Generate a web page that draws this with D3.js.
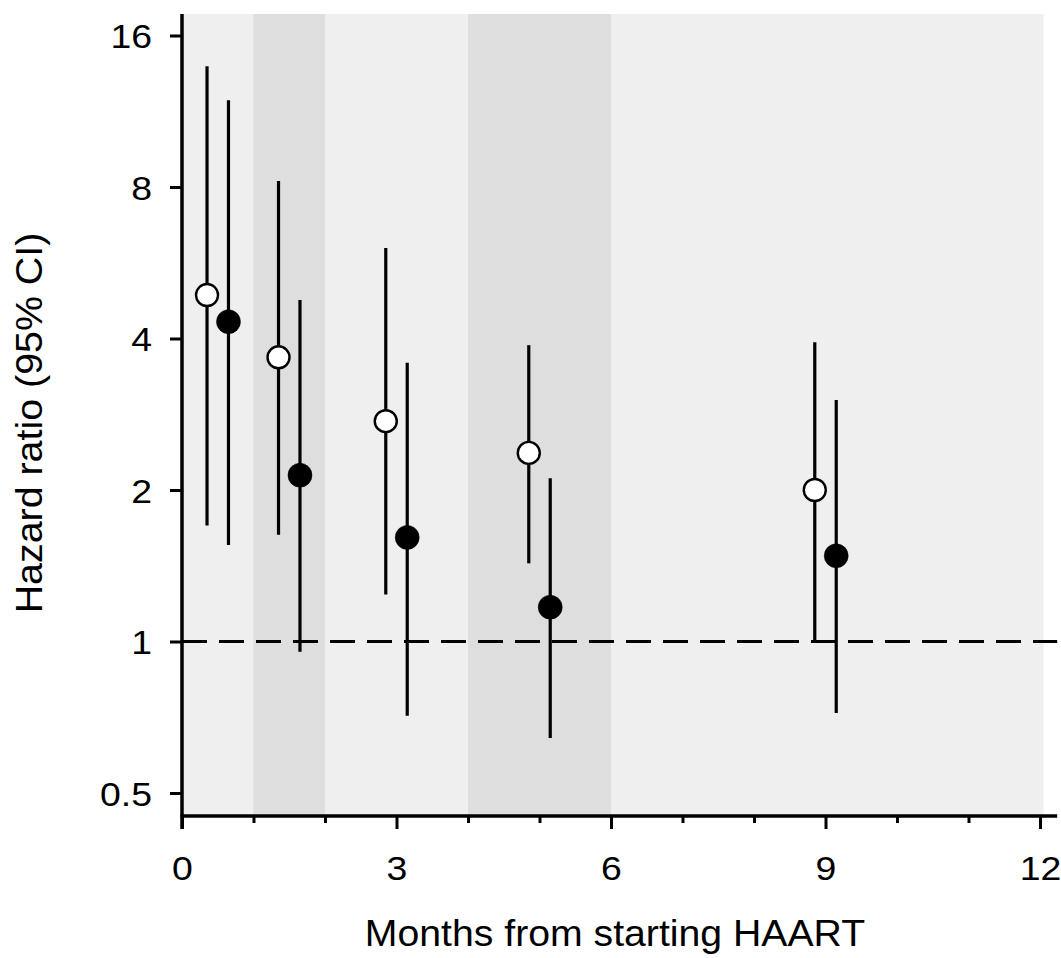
<!DOCTYPE html>
<html>
<head>
<meta charset="utf-8">
<script src="https://cdn.jsdelivr.net/npm/d3@7/dist/d3.min.js"></script>
<style>
  html, body { margin: 0; padding: 0; background: #ffffff; }
  svg { display: block; }
  text { font-family: "Liberation Sans", Arial, Helvetica, sans-serif; fill: #000; }
</style>
</head>
<body>
<svg id="chart" width="1061" height="958"></svg>
<script>
// ---- data ----
const openMonths   = [0.35, 1.35, 2.85, 4.85, 8.85];
const openHR       = [4.88, 3.67, 2.74, 2.37, 2.00];
const openLower    = [1.70, 1.63, 1.24, 1.43, 1.00];
const openUpper    = [13.9, 8.22, 6.05, 3.88, 3.93];

const closedMonths = [0.65, 1.65, 3.15, 5.15, 9.15];
const closedHR     = [4.32, 2.14, 1.61, 1.17, 1.48];
const closedLower  = [1.555, 0.954, 0.712, 0.643, 0.721];
const closedUpper  = [11.9, 4.77, 3.58, 2.11, 3.02];

const shadedBands  = [[1, 2], [4, 6]];
const yTickValues  = [0.5, 1, 2, 4, 8, 16];
const yTickLabels  = ["0.5", "1", "2", "4", "8", "16"];
const xMajorTicks  = [0, 3, 6, 9, 12];
const xMinorTicks  = [1, 2, 4, 5, 7, 8, 10, 11];
const referenceHR  = 1;
const xTitle = "Months from starting HAART";
const yTitle = "Hazard ratio (95% CI)";

// ---- layout ----
const svg = d3.select("#chart");
const plotTop = 14, plotBottom = 816;
const x = d3.scaleLinear().domain([0, 12]).range([182, 1040]);
const y = d3.scaleLog().base(2).domain([0.5, 16]).range([793, 35.5]);

// background
svg.append("rect")
  .attr("x", x(0)).attr("y", plotTop)
  .attr("width", x(12.05) - x(0)).attr("height", plotBottom - plotTop)
  .attr("fill", "#efefef");

svg.selectAll("rect.band").data(shadedBands).enter().append("rect")
  .attr("class", "band")
  .attr("x", d => x(d[0])).attr("y", plotTop)
  .attr("width", d => x(d[1]) - x(d[0])).attr("height", plotBottom - plotTop)
  .attr("fill", "#dedede");

// reference line
svg.append("line")
  .attr("x1", x(0)).attr("x2", x(12.24))
  .attr("y1", y(referenceHR)).attr("y2", y(referenceHR))
  .attr("stroke", "#000").attr("stroke-width", 3)
  .attr("stroke-dasharray", "25,12");

// y axis
const yAxis = d3.axisLeft(y).tickValues(yTickValues)
  .tickFormat((d, i) => yTickLabels[i]).tickSize(12).tickSizeOuter(0);
const gy = svg.append("g").attr("transform", `translate(${x(0)},0)`).call(yAxis);
gy.select(".domain").remove();
gy.selectAll(".tick line").attr("stroke", "#000").attr("stroke-width", 3);
gy.selectAll(".tick text")
  .attr("font-size", 34).attr("font-family", "Liberation Sans, Arial, sans-serif")
  .attr("dy", null).attr("y", 12).attr("x", null)
  .attr("transform", "translate(-30,0) scale(1.1,1)");

svg.append("line")
  .attr("x1", x(0)).attr("x2", x(0))
  .attr("y1", plotTop).attr("y2", plotBottom + 13)
  .attr("stroke", "#000").attr("stroke-width", 3.5);

// x axis
const gxMinor = svg.append("g").attr("transform", `translate(0,${plotBottom})`)
  .call(d3.axisBottom(x).tickValues(xMinorTicks).tickSize(7).tickSizeOuter(0).tickFormat(""));
gxMinor.select(".domain").remove();
gxMinor.selectAll(".tick line").attr("stroke", "#000").attr("stroke-width", 3);

const gx = svg.append("g").attr("transform", `translate(0,${plotBottom})`)
  .call(d3.axisBottom(x).tickValues(xMajorTicks).tickSize(13).tickSizeOuter(0).tickFormat(d3.format("d")));
gx.select(".domain").remove();
gx.selectAll(".tick line").attr("stroke", "#000").attr("stroke-width", 3);
gx.selectAll(".tick text")
  .attr("font-size", 34).attr("font-family", "Liberation Sans, Arial, sans-serif")
  .attr("dy", null).attr("y", 0)
  .attr("transform", "translate(0,64) scale(1.1,1)");

svg.append("line")
  .attr("x1", x(0) - 1.5).attr("x2", x(12.24))
  .attr("y1", plotBottom).attr("y2", plotBottom)
  .attr("stroke", "#000").attr("stroke-width", 3.5);

// error bars
function drawSeries(months, hr, lo, hi, fill, cls) {
  const data = months.map((m, i) => ({ m, hr: hr[i], lo: lo[i], hi: hi[i] }));
  svg.selectAll("line." + cls).data(data).enter().append("line")
    .attr("class", cls)
    .attr("x1", d => x(d.m)).attr("x2", d => x(d.m))
    .attr("y1", d => y(d.lo)).attr("y2", d => y(d.hi))
    .attr("stroke", "#000").attr("stroke-width", 3.2);
  svg.selectAll("circle." + cls).data(data).enter().append("circle")
    .attr("class", cls)
    .attr("cx", d => x(d.m)).attr("cy", d => y(d.hr))
    .attr("r", fill === "#fff" ? 11 : 12)
    .attr("fill", fill).attr("stroke", "#000").attr("stroke-width", fill === "#fff" ? 2.4 : 0.5);
}
drawSeries(openMonths, openHR, openLower, openUpper, "#fff", "open");
drawSeries(closedMonths, closedHR, closedLower, closedUpper, "#000", "closed");

// titles
svg.append("text")
  .attr("text-anchor", "middle")
  .attr("font-size", 37)
  .attr("transform", `translate(${(x(0) + x(12)) / 2 + 4},946) scale(1.06,1)`)
  .text(xTitle);

svg.append("text")
  .attr("text-anchor", "middle")
  .attr("font-size", 37.5)
  .attr("transform", `translate(42,423) rotate(-90) scale(1.05,1)`)
  .text(yTitle);
</script>
</body>
</html>
